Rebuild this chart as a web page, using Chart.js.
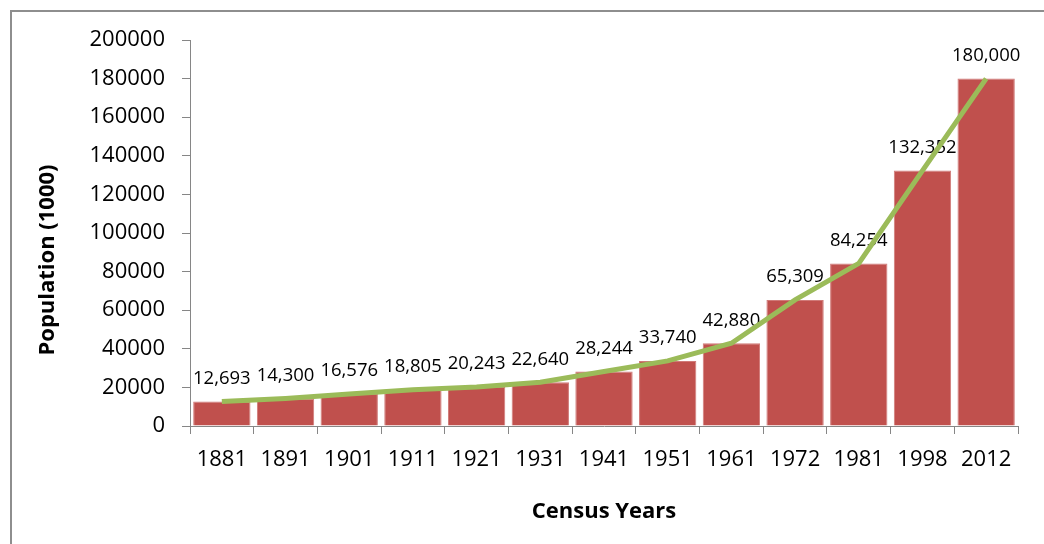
<!DOCTYPE html>
<html>
<head>
    <title>Population by Census Year</title>
    <script src="https://cdn.jsdelivr.net/npm/chart.js"></script>
    <style>
        body { margin: 0; background: #fff; }
        .wrap { position: relative; width: 1044px; height: 544px; overflow: hidden; }
        .frame { position: absolute; left: 10px; top: 10px; width: 1100px; height: 600px; border: 2px solid #8e8e8e; box-sizing: border-box; }
        canvas { position: absolute; left: 0; top: 0; }
    </style>
</head>
<body>
<div class="wrap">
    <div class="frame"></div>
    <canvas id="popChart" width="1044" height="544"></canvas>
</div>

<script>
    // census data
    const censusYears = ['1881', '1891', '1901', '1911', '1921', '1931', '1941', '1951', '1961', '1972', '1981', '1998', '2012'];
    const populationBars = [12693, 14300, 16576, 18805, 20243, 22640, 28244, 33740, 42880, 65309, 84254, 132352, 180000];
    const populationLine = [12693, 14300, 16576, 18805, 20243, 22640, 28244, 33740, 42880, 65309, 84254, 132352, 180000];
    const yTickMin = 0, yTickMax = 200000, yTickStep = 20000;

    const FONT = '"Open Sans", "DejaVu Sans", sans-serif';
    const axisGray = '#868686';

    // value labels above bars, drawn before the line so the line sits on top
    const barLabels = {
        id: 'barLabels',
        afterDatasetDraw(chart, args) {
            if (args.index !== 0) return;
            const ctx = chart.ctx;
            ctx.save();
            ctx.font = '18.5px ' + FONT;
            ctx.fillStyle = '#000';
            ctx.textAlign = 'center';
            ctx.textBaseline = 'middle';
            args.meta.data.forEach((bar, i) => {
                ctx.fillText(populationBars[i].toLocaleString('en-US'), bar.x, bar.y - 23);
            });
            ctx.restore();
        }
    };

    // axis titles
    const axisTitles = {
        id: 'axisTitles',
        afterDraw(chart) {
            const ctx = chart.ctx;
            const area = chart.chartArea;
            ctx.save();
            ctx.font = 'bold 22px ' + FONT;
            ctx.fillStyle = '#000';
            ctx.textAlign = 'center';
            ctx.textBaseline = 'middle';
            ctx.fillText('Census Years', (area.left + area.right) / 2, 512);
            ctx.translate(48, 260);
            ctx.rotate(-Math.PI / 2);
            ctx.fillText('Population (1000)', 0, 0);
            ctx.restore();
        }
    };

    const ctx = document.getElementById('popChart').getContext('2d');
    new Chart(ctx, {
        data: {
            labels: censusYears,
            datasets: [{
                type: 'bar',
                data: populationBars,
                backgroundColor: '#C0504D',
                borderColor: '#D07A78',
                borderWidth: 1,
                barPercentage: 0.9,
                categoryPercentage: 1.0,
                order: 1
            }, {
                type: 'line',
                data: populationLine,
                borderColor: '#9BBB59',
                borderWidth: 5,
                pointRadius: 0,
                tension: 0,
                order: 0
            }]
        },
        options: {
            responsive: false,
            animation: false,
            layout: { padding: { top: 40, right: 26, left: 0, bottom: 0 } },
            plugins: {
                legend: { display: false },
                tooltip: { enabled: false }
            },
            scales: {
                x: {
                    offset: true,
                    grid: { offset: true, drawOnChartArea: false, tickLength: 8, color: axisGray },
                    border: { color: axisGray, width: 1 },
                    ticks: { color: '#000', font: { family: FONT, size: 22 }, padding: 13, maxRotation: 0 },
                    afterFit(scale) { scale.height = 118; }
                },
                y: {
                    min: yTickMin,
                    max: yTickMax,
                    grid: { drawOnChartArea: false, tickLength: 8, color: axisGray },
                    border: { color: axisGray, width: 1 },
                    ticks: {
                        stepSize: yTickStep,
                        color: '#000',
                        font: { family: FONT, size: 22 },
                        padding: 17,
                        callback: v => String(v)
                    },
                    afterFit(scale) { scale.width = 190; }
                }
            }
        },
        plugins: [barLabels, axisTitles]
    });
</script>
</body>
</html>
